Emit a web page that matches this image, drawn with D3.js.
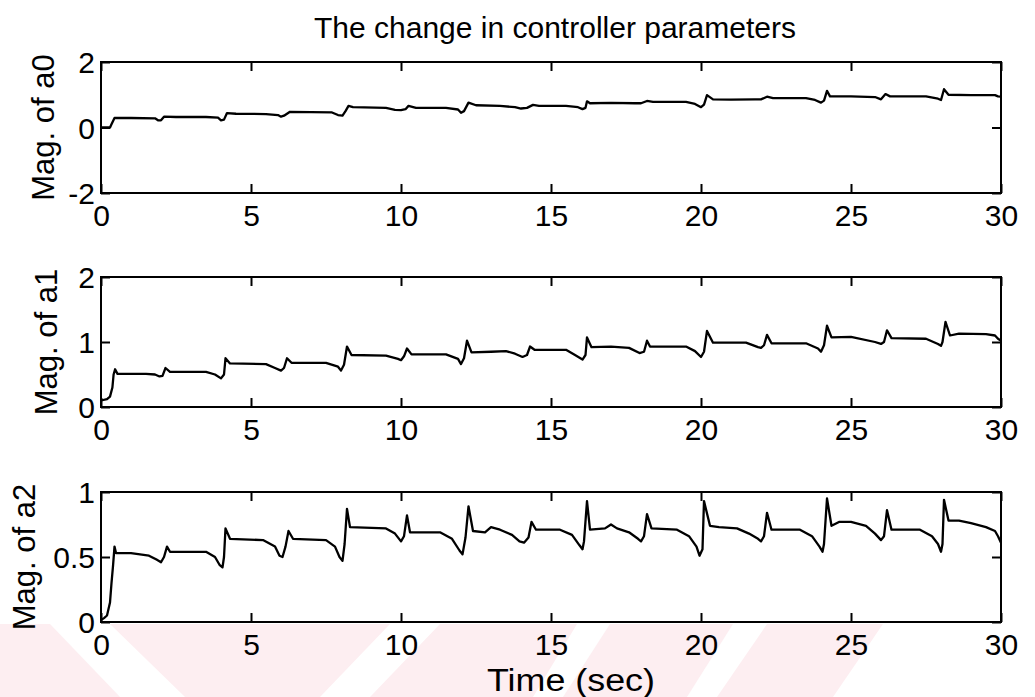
<!DOCTYPE html>
<html>
<head>
<meta charset="utf-8">
<script src="https://cdn.jsdelivr.net/npm/d3@7"></script>
<style>
  html, body { margin: 0; padding: 0; background: #ffffff; }
  svg { display: block; }
  text { font-family: "Liberation Sans", Arial, Helvetica, sans-serif; fill: #000; }
</style>
</head>
<body>
<svg id="chart" width="1035" height="697"></svg>
<script>
// ---------------- data ----------------
const titleText = "The change in controller parameters";
const xLabelText = "Time (sec)";
const yLabels = ["Mag. of a0", "Mag. of a1", "Mag. of a2"];
const xTicks = [0, 5, 10, 15, 20, 25, 30];
const yTicks0 = [-2, 0, 2];
const yTicks1 = [0, 1, 2];
const yTicks2 = [0, 0.5, 1];
const yDomain0 = [-2, 2];
const yDomain1 = [0, 2];
const yDomain2 = [0, 1];

// [time (s), magnitude]
const a0 = [[0,0],[0.3,0],[0.35,0.1],[0.45,0.29],[1.0,0.29],[1.8,0.28],[1.9,0.22],[2.0,0.22],[2.1,0.33],[2.5,0.32],[3.5,0.32],[3.9,0.3],[4.0,0.22],[4.1,0.24],[4.2,0.44],[4.5,0.42],[5.5,0.41],[5.9,0.38],[6.0,0.33],[6.1,0.36],[6.3,0.48],[7.0,0.47],[7.7,0.46],[7.9,0.38],[8.05,0.36],[8.15,0.5],[8.25,0.66],[8.4,0.62],[9.5,0.6],[9.8,0.54],[10.0,0.53],[10.15,0.56],[10.25,0.66],[10.5,0.6],[11.5,0.6],[11.9,0.55],[12.0,0.45],[12.1,0.5],[12.25,0.76],[12.5,0.68],[13.3,0.66],[13.8,0.62],[14.0,0.58],[14.2,0.6],[14.4,0.69],[14.6,0.66],[15.5,0.66],[15.9,0.62],[16.05,0.56],[16.15,0.6],[16.2,0.8],[16.3,0.74],[17,0.75],[17.8,0.74],[18.0,0.74],[18.2,0.81],[18.4,0.78],[19.5,0.78],[19.8,0.72],[20.0,0.62],[20.1,0.7],[20.2,0.99],[20.4,0.86],[21.0,0.85],[21.8,0.86],[22.0,0.86],[22.2,0.94],[22.4,0.9],[23.5,0.9],[23.8,0.84],[24.0,0.76],[24.1,0.82],[24.2,1.12],[24.3,0.95],[25.0,0.95],[25.8,0.93],[26.0,0.86],[26.15,1.02],[26.3,0.95],[27.5,0.95],[27.9,0.88],[28.0,0.84],[28.1,1.17],[28.25,1.0],[29.0,0.99],[29.8,0.99],[29.9,0.95],[30,0.94]];

const a1 = [[0,0.1],[0.2,0.12],[0.3,0.16],[0.38,0.3],[0.42,0.5],[0.47,0.58],[0.55,0.51],[1.5,0.51],[1.8,0.5],[1.95,0.47],[2.05,0.48],[2.15,0.6],[2.3,0.54],[3.5,0.54],[3.8,0.5],[4.0,0.44],[4.1,0.5],[4.15,0.75],[4.3,0.67],[5.5,0.66],[5.8,0.6],[6.0,0.56],[6.1,0.6],[6.2,0.75],[6.35,0.68],[7.5,0.68],[7.9,0.62],[8.0,0.56],[8.1,0.65],[8.2,0.93],[8.35,0.8],[9.5,0.79],[9.9,0.74],[10.0,0.72],[10.1,0.78],[10.2,0.9],[10.35,0.81],[11.5,0.81],[11.9,0.74],[12.0,0.66],[12.1,0.75],[12.2,1.02],[12.35,0.84],[13.0,0.85],[13.5,0.86],[13.8,0.82],[14.05,0.77],[14.2,0.8],[14.3,0.93],[14.45,0.88],[15.5,0.88],[15.8,0.8],[16.05,0.73],[16.15,0.8],[16.2,1.07],[16.35,0.92],[17.0,0.93],[17.6,0.91],[17.95,0.83],[18.1,0.85],[18.2,1.02],[18.3,0.93],[19.5,0.93],[19.8,0.86],[20.0,0.77],[20.1,0.85],[20.2,1.17],[20.4,0.99],[21.5,0.99],[21.9,0.92],[22.0,0.91],[22.1,0.95],[22.2,1.11],[22.35,0.98],[23.5,0.98],[23.9,0.9],[24.0,0.85],[24.1,0.95],[24.2,1.25],[24.35,1.07],[25.0,1.08],[25.8,1.0],[26.0,0.97],[26.1,1.0],[26.2,1.18],[26.35,1.06],[27.5,1.05],[27.9,0.97],[28.0,0.94],[28.05,1.0],[28.15,1.31],[28.3,1.1],[28.6,1.13],[29.5,1.12],[29.8,1.1],[29.9,1.05],[30,1.02]];

const a2 = [[0,0.015],[0.1,0.03],[0.2,0.05],[0.3,0.15],[0.35,0.3],[0.4,0.43],[0.45,0.58],[0.5,0.53],[1.0,0.53],[1.6,0.51],[1.85,0.48],[2.0,0.46],[2.1,0.5],[2.2,0.58],[2.3,0.54],[3.5,0.54],[3.8,0.5],[3.95,0.44],[4.05,0.42],[4.1,0.5],[4.15,0.72],[4.3,0.64],[5.4,0.63],[5.8,0.58],[5.95,0.51],[6.05,0.5],[6.15,0.58],[6.25,0.7],[6.4,0.64],[7.5,0.63],[7.8,0.58],[7.95,0.5],[8.05,0.47],[8.12,0.6],[8.2,0.87],[8.3,0.73],[9.5,0.72],[9.8,0.68],[10.0,0.62],[10.1,0.66],[10.2,0.82],[10.3,0.69],[11.3,0.69],[11.7,0.64],[11.95,0.55],[12.05,0.52],[12.15,0.65],[12.25,0.89],[12.4,0.7],[12.8,0.69],[13.0,0.73],[13.3,0.71],[13.7,0.67],[13.95,0.62],[14.1,0.61],[14.25,0.65],[14.35,0.77],[14.5,0.71],[15.3,0.71],[15.7,0.67],[15.95,0.59],[16.05,0.56],[16.1,0.62],[16.2,0.93],[16.3,0.71],[16.8,0.72],[17.0,0.75],[17.2,0.72],[17.6,0.69],[17.9,0.64],[18.0,0.62],[18.1,0.66],[18.2,0.83],[18.35,0.72],[19.2,0.71],[19.6,0.66],[19.85,0.58],[19.95,0.51],[20.05,0.56],[20.1,0.93],[20.3,0.74],[20.6,0.73],[21.2,0.72],[21.6,0.68],[21.9,0.64],[22.0,0.62],[22.1,0.66],[22.2,0.84],[22.35,0.71],[23.3,0.71],[23.7,0.66],[23.95,0.58],[24.05,0.54],[24.1,0.6],[24.2,0.95],[24.35,0.74],[24.6,0.77],[25.0,0.77],[25.5,0.74],[25.8,0.68],[26.0,0.63],[26.1,0.66],[26.2,0.86],[26.35,0.71],[27.3,0.71],[27.7,0.66],[27.9,0.6],[28.0,0.54],[28.05,0.6],[28.1,0.94],[28.25,0.78],[28.6,0.78],[29.0,0.76],[29.5,0.73],[29.8,0.7],[29.9,0.66],[30,0.61]];

// ---------------- layout ----------------
const svg = d3.select("#chart");
const left = 101, right = 1001;
const panels = [
  { top: 62,  bottom: 193, data: a0, domain: yDomain0, ticks: yTicks0, label: yLabels[0], labelX: 54 },
  { top: 277, bottom: 407, data: a1, domain: yDomain1, ticks: yTicks1, label: yLabels[1], labelX: 57 },
  { top: 492, bottom: 622, data: a2, domain: yDomain2, ticks: yTicks2, label: yLabels[2], labelX: 35 }
];
const tickLen = 9;
const tickFont = "30px";
const labelFont = "31px";
const fmt = d => String(d);

// faint pink background watermark bands of the scanned page (decoration)
const wm = svg.append("g").attr("fill", "#fdeef1");
[
  [[0,624],[50,624],[120,697],[0,697]],
  [[110,624],[390,624],[320,697],[185,697]],
  [[440,624],[577,624],[533,697],[370,697]],
  [[610,624],[733,624],[687,697],[563,697]],
  [[767,624],[883,624],[833,697],[717,697]]
].forEach(poly => wm.append("polygon").attr("points", poly.map(p => p.join(",")).join(" ")));

const x = d3.scaleLinear().domain([0, 30]).range([left, right]);

svg.append("text")
  .attr("x", 555).attr("y", 38)
  .attr("text-anchor", "middle")
  .style("font-size", "30px")
  .text(titleText);

panels.forEach(p => {
  const y = d3.scaleLinear().domain(p.domain).range([p.bottom, p.top]);
  const g = svg.append("g");

  g.append("path")
    .datum(p.data)
    .attr("fill", "none")
    .attr("stroke", "#000")
    .attr("stroke-width", 2.3)
    .attr("stroke-linejoin", "round")
    .attr("d", d3.line().x(d => x(d[0])).y(d => y(d[1])));

  const gb = g.append("g").attr("transform", `translate(0,${p.bottom})`)
    .call(d3.axisBottom(x).tickValues(xTicks).tickFormat(fmt).tickSizeInner(-tickLen).tickSizeOuter(0));
  const gt = g.append("g").attr("transform", `translate(0,${p.top})`)
    .call(d3.axisTop(x).tickValues(xTicks).tickFormat("").tickSizeInner(-tickLen).tickSizeOuter(0));
  const gl = g.append("g").attr("transform", `translate(${left},0)`)
    .call(d3.axisLeft(y).tickValues(p.ticks).tickFormat(fmt).tickSizeInner(-tickLen).tickSizeOuter(0));
  const gr = g.append("g").attr("transform", `translate(${right},0)`)
    .call(d3.axisRight(y).tickValues(p.ticks).tickFormat("").tickSizeInner(-tickLen).tickSizeOuter(0));

  [gb, gt, gl, gr].forEach(a => {
    a.select(".domain").remove();
    a.selectAll(".tick line").attr("stroke", "#000").attr("stroke-width", 2);
    a.selectAll(".tick text")
      .style("font-family", '"Liberation Sans", Arial, Helvetica, sans-serif')
      .style("font-size", tickFont).attr("fill", "#000");
  });
  gb.selectAll(".tick text").attr("y", 12).attr("dy", "0.71em");
  gl.selectAll(".tick text").attr("x", -6).attr("dy", "0.36em");

  g.append("rect")
    .attr("x", left).attr("y", p.top)
    .attr("width", right - left).attr("height", p.bottom - p.top)
    .attr("fill", "none").attr("stroke", "#000").attr("stroke-width", 2);

  svg.append("text")
    .attr("transform", `translate(${p.labelX},${(p.top + p.bottom) / 2}) rotate(-90)`)
    .attr("text-anchor", "middle")
    .style("font-size", labelFont)
    .text(p.label);
});

svg.append("text")
  .attr("x", 487).attr("y", 691)
  .attr("text-anchor", "start")
  .attr("textLength", 168)
  .attr("lengthAdjust", "spacingAndGlyphs")
  .style("font-size", "31px")
  .text(xLabelText);
</script>
</body>
</html>
